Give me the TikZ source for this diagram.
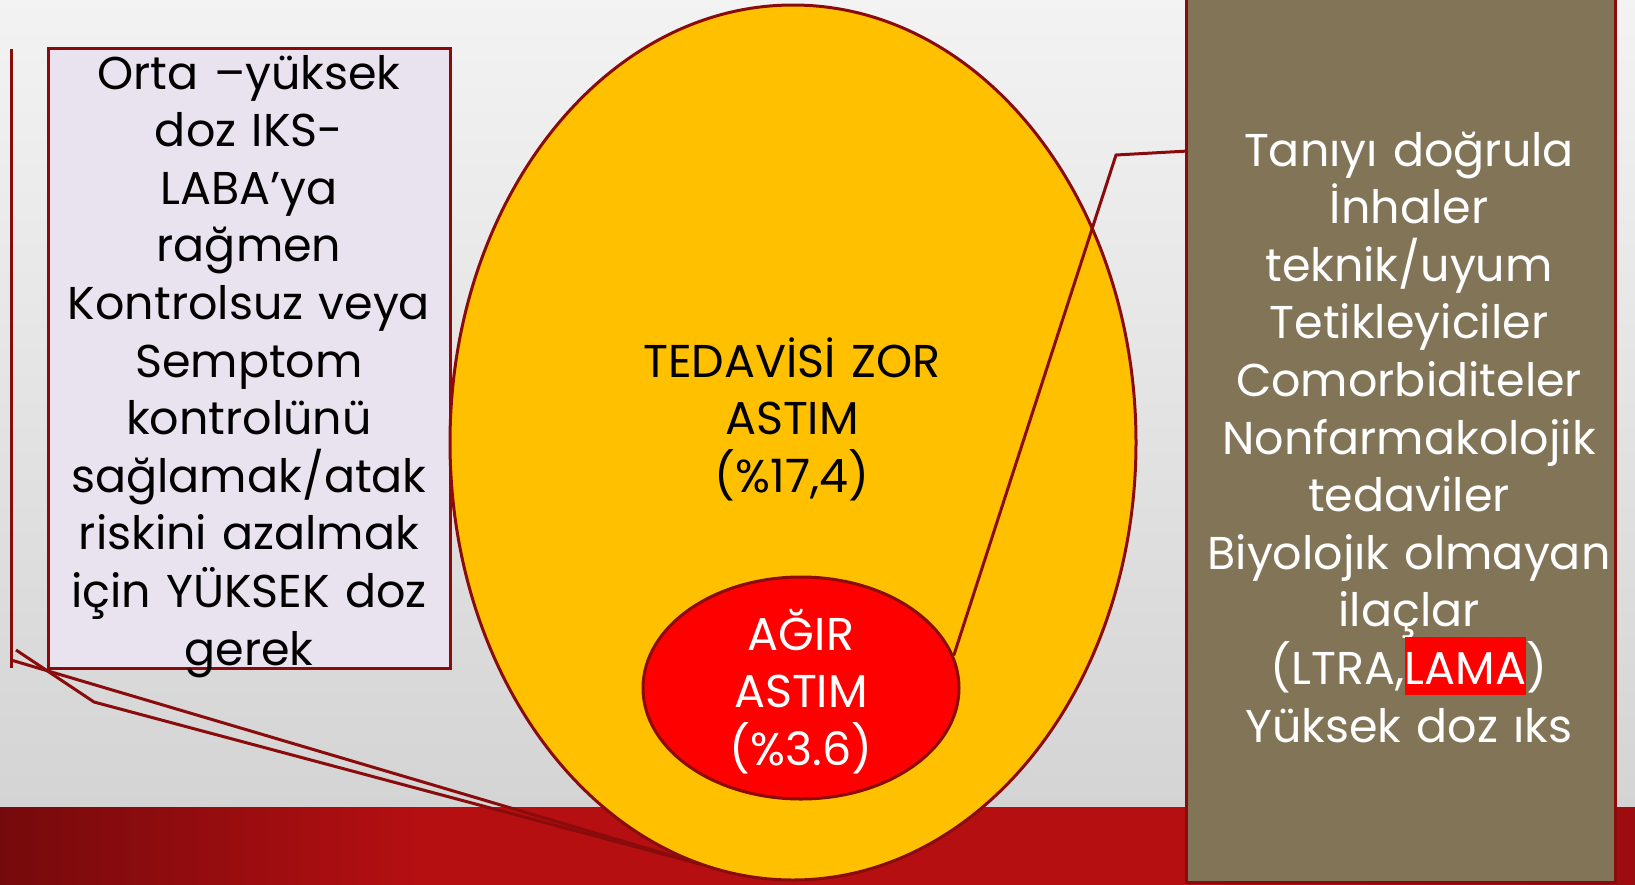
\documentclass[tikz,border=0pt]{standalone}
\usepackage{fontspec}
\setmainfont{Poppins}
\usepackage{tikz}
\usetikzlibrary{shapes.geometric, positioning}

\definecolor{arkaust}{HTML}{F3F3F3}
\definecolor{arkaalt}{HTML}{D4D4D4}
\definecolor{bordo}{HTML}{8A0B0B}
\definecolor{sari}{HTML}{FFC000}
\definecolor{kirmizi}{HTML}{FF0000}
\definecolor{lila}{HTML}{E9E3EF}
\definecolor{haki}{HTML}{827457}
\definecolor{serit1}{HTML}{740A0C}
\definecolor{serit2}{HTML}{B50F12}
\definecolor{serit3}{HTML}{9C0D10}

\newcommand{\vurgu}[1]{\smash{\setlength{\fboxsep}{0pt}\colorbox{kirmizi}{\rule[-11pt]{0pt}{58pt}#1}}}

\begin{document}
\begin{tikzpicture}[x=1pt, y=-1pt,
                    cizgi/.style={draw=bordo, line width=3pt},
                    yazi/.style={font=\fontsize{46}{57.6}\selectfont, align=center, text width=600pt, inner sep=0pt, anchor=base}]
                        \useasboundingbox (0,0) rectangle (1635,884);
                        \clip (0,0) rectangle (1635,884);
                        \shade[top color=arkaust, bottom color=arkaalt] (-5,-5) rectangle (1640,808);
                        \shade[left color=serit1, right color=serit2] (-5,807) rectangle (420,890);
                        \fill[serit2] (418,807) rectangle (1201,890);
                        \shade[left color=serit2, right color=serit3] (1199,807) rectangle (1640,890);
                        \node[cizgi, fill=haki, minimum width=429, minimum height=890] (sag) at (1400.5,437) {};
                        \node[cizgi, fill=lila, minimum width=402, minimum height=620] (sol) at (249,358) {};
                        \node[cizgi, ellipse, fill=sari, inner sep=0pt, minimum width=686, minimum height=875] (zor) at (793,442.5) {};
                        \node[cizgi, ellipse, fill=kirmizi, inner sep=0pt, minimum width=316, minimum height=222] (agir) at (801,688) {};
                        \coordinate (solust) at (11,49);
                        \coordinate (solalt) at (11,668);
                        \coordinate (kol1) at (11,660);
                        \coordinate (kol2) at (16,650);
                        \coordinate (kirik) at (94,702);
                        \coordinate (uc) at (700,864);
                        \coordinate (sagbas) at (1188,151);
                        \coordinate (sagkirik) at (1116,155);
                        \draw[cizgi] (solust) -- (solalt);
                        \draw[cizgi] (kol1) -- (uc);
                        \draw[cizgi] (kol2) -- (kirik) -- (uc);
                        \draw[cizgi] (sagbas) -- (sagkirik) -- (agir.12);
                        \node[yazi] (soltext) at (249,89) {Orta –yüksek\\doz IKS-\\LABA’ya\\rağmen\\Kontrolsuz veya\\Semptom\\kontrolünü\\sağlamak/atak\\riskini azalmak\\için YÜKSEK doz\\gerek};
                        \node[yazi] (zortext) at (792,377) {TEDAVİSİ ZOR\\ASTIM\\(\%17,4)};
                        \node[yazi, text=white] (agirtext) at (801,650) {AĞIR\\ASTIM\\(\%3.6)};
                        \node[yazi, text=white] (sagtext) at (1409,166) {Tanıyı doğrula\\İnhaler\\teknik/uyum\\Tetikleyiciler\\Comorbiditeler\\Nonfarmakolojik\\tedaviler\\Biyolojık olmayan\\ilaçlar\\(LTRA,\vurgu{LAMA})\\Yüksek doz ıks};
                    \end{tikzpicture}
\end{document}
